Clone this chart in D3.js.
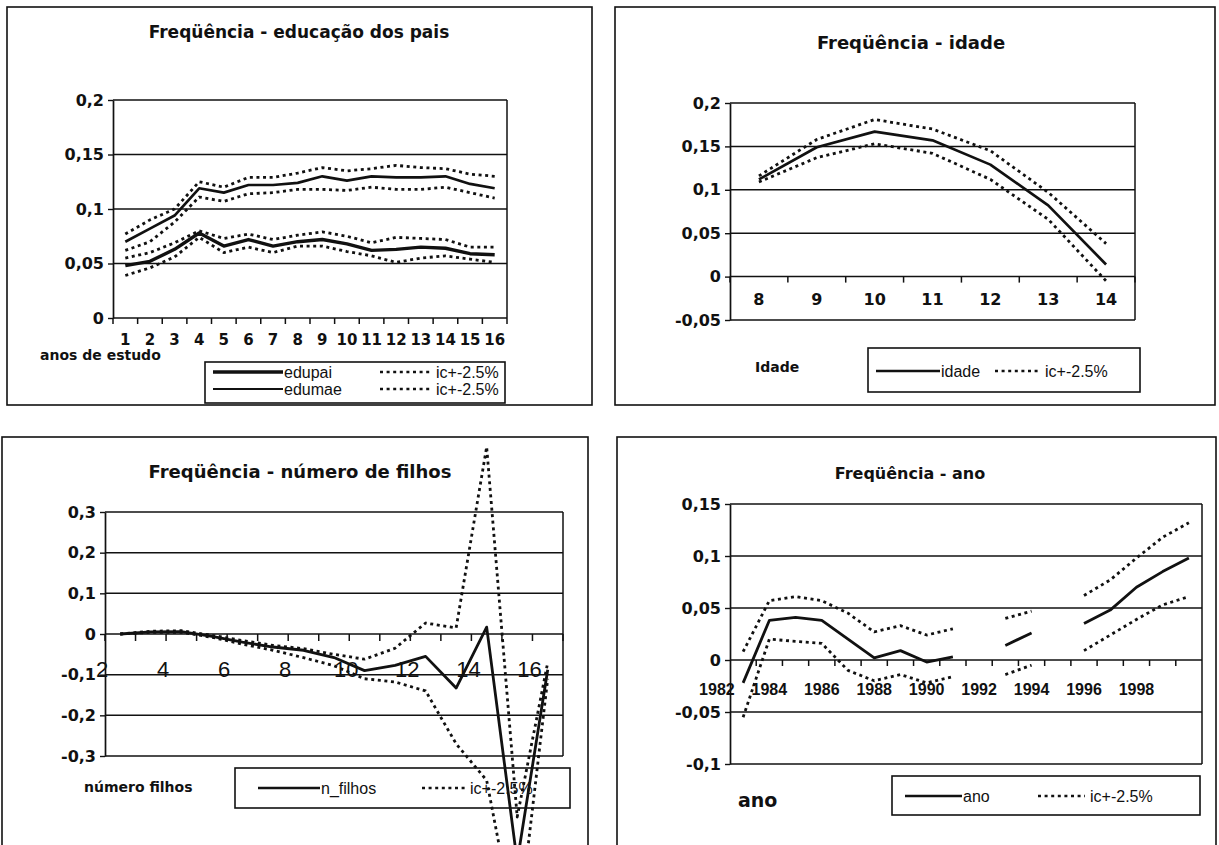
<!DOCTYPE html>
<html>
<head>
<meta charset="utf-8">
<script src="https://cdn.jsdelivr.net/npm/d3@7"></script>
<style>
  body { margin: 0; background: #fff; }
  text { font-family: "DejaVu Sans", "Liberation Sans", Arial, sans-serif; fill: #111; }
  .leg { font-family: "Liberation Sans", Arial, sans-serif; font-size: 16px; }
  .arial { font-family: "Liberation Sans", Arial, sans-serif; }
</style>
</head>
<body>
<svg id="chart" width="1219" height="845"></svg>
<script>
// --- Frequência - educação dos pais
var anosEstudo = [1, 2, 3, 4, 5, 6, 7, 8, 9, 10, 11, 12, 13, 14, 15, 16];
var edupai    = [0.048, 0.052, 0.063, 0.078, 0.066, 0.072, 0.066, 0.070, 0.072, 0.068, 0.062, 0.063, 0.065, 0.064, 0.059, 0.058];
var edupaiSup = [0.055, 0.060, 0.069, 0.080, 0.073, 0.077, 0.072, 0.076, 0.079, 0.075, 0.069, 0.074, 0.073, 0.072, 0.065, 0.065];
var edupaiInf = [0.039, 0.046, 0.056, 0.074, 0.060, 0.065, 0.060, 0.066, 0.066, 0.061, 0.057, 0.051, 0.055, 0.057, 0.054, 0.051];
var edumae    = [0.070, 0.082, 0.094, 0.119, 0.115, 0.122, 0.122, 0.124, 0.130, 0.126, 0.130, 0.129, 0.129, 0.130, 0.123, 0.119];
var edumaeSup = [0.077, 0.090, 0.100, 0.125, 0.120, 0.129, 0.129, 0.133, 0.138, 0.135, 0.137, 0.140, 0.138, 0.137, 0.132, 0.130];
var edumaeInf = [0.062, 0.070, 0.088, 0.111, 0.107, 0.114, 0.115, 0.118, 0.118, 0.117, 0.120, 0.118, 0.118, 0.120, 0.115, 0.110];

// --- Frequência - idade
var idade    = [8, 9, 10, 11, 12, 13, 14];
var idadeVal = [0.112, 0.149, 0.167, 0.157, 0.129, 0.082, 0.014];
var idadeSup = [0.116, 0.158, 0.181, 0.170, 0.145, 0.097, 0.038];
var idadeInf = [0.109, 0.137, 0.153, 0.142, 0.112, 0.066, -0.005];

// --- Frequência - número de filhos
var filhos     = [2, 3, 4, 5, 6, 7, 8, 9, 10, 11, 12, 13, 14, 15, 16];
var filhosLab  = [2, 4, 6, 8, 10, 12, 14, 16];
var nFilhos    = [0, 0.005, 0.006, -0.006, -0.020, -0.032, -0.040, -0.058, -0.090, -0.077, -0.055, -0.133, 0.017, -0.560, -0.088];
var nFilhosSup = [0, 0.007, 0.008, -0.003, -0.016, -0.028, -0.036, -0.050, -0.062, -0.035, 0.027, 0.015, 0.460, -0.450, -0.070];
var nFilhosInf = [0, 0.004, 0.004, -0.008, -0.025, -0.040, -0.058, -0.078, -0.110, -0.118, -0.140, -0.270, -0.360, -0.750, -0.110];

// --- Frequência - ano
var anos    = [1983, 1984, 1985, 1986, 1987, 1988, 1989, 1990, 1991, 1992, 1993, 1994, 1995, 1996, 1997, 1998, 1999, 2000];
var anosLab = [1982, 1984, 1986, 1988, 1990, 1992, 1994, 1996, 1998];
var anoVal  = [-0.022, 0.038, 0.041, 0.038, 0.020, 0.002, 0.009, -0.002, 0.003, null, 0.014, 0.026, null, 0.035, 0.048, 0.070, 0.085, 0.098];
var anoSup  = [0.008, 0.057, 0.061, 0.057, 0.045, 0.027, 0.033, 0.024, 0.030, null, 0.040, 0.047, null, 0.062, 0.077, 0.098, 0.118, 0.132];
var anoInf  = [-0.055, 0.020, 0.018, 0.016, -0.010, -0.020, -0.014, -0.022, -0.016, null, -0.014, -0.005, null, 0.009, 0.024, 0.039, 0.053, 0.061];

var svg = d3.select("#chart");
var fmt = d3.formatLocale({decimal: ",", thousands: ".", grouping: [3], currency: ["", ""], minus: "-"}).format("~g");
var DOTS = "3,3.6";

// box, title, grid, y axis
function preparePanel(p) {
  var g = svg.append("g");
  g.append("rect")
    .attr("x", p.box[0]).attr("y", p.box[1])
    .attr("width", p.box[2]).attr("height", p.box[3])
    .attr("fill", "none").attr("stroke", "#111").attr("stroke-width", 1.6);

  g.append("text")
    .attr("x", p.titleX).attr("y", p.titleY)
    .attr("text-anchor", "middle")
    .style("font-size", p.titleSize + "px").style("font-weight", "bold")
    .text(p.title);

  var y = d3.scaleLinear().domain(p.yDomain).range([p.bottom, p.top]);

  g.selectAll("line.grid")
    .data(p.yTicks)
    .enter().append("line")
      .attr("class", "grid")
      .attr("x1", p.left).attr("x2", p.right)
      .attr("y1", y).attr("y2", y)
      .attr("stroke", "#111").attr("stroke-width", 1.5);

  g.append("line")
    .attr("x1", p.right).attr("x2", p.right)
    .attr("y1", p.top).attr("y2", p.bottom)
    .attr("stroke", "#111").attr("stroke-width", 1.5);

  var ax = g.append("g")
    .attr("transform", "translate(" + p.left + ",0)")
    .call(d3.axisLeft(y).tickValues(p.yTicks).tickSize(5).tickSizeOuter(0).tickPadding(4).tickFormat(fmt));
  ax.attr("font-family", null).attr("font-size", null);
  ax.select(".domain").attr("stroke", "#111").attr("stroke-width", 1.7);
  ax.selectAll(".tick line").attr("stroke", "#111").attr("stroke-width", 1.4);
  ax.selectAll(".tick text").style("font-size", "16px").style("font-weight", "bold").attr("fill", "#111");

  g.append("text")
    .attr("x", p.axisTitle.x).attr("y", p.axisTitle.y)
    .style("font-size", p.axisTitle.size + "px").style("font-weight", "bold")
    .text(p.axisTitle.text);

  p.g = g;
  p.y = y;
  return p;
}

function buildLegend(p, box, rows) {
  var g = p.g.append("g");
  g.append("rect")
    .attr("x", box[0]).attr("y", box[1]).attr("width", box[2]).attr("height", box[3])
    .attr("fill", "#fff").attr("stroke", "#111").attr("stroke-width", 1.6);
  rows.forEach(function(r) {
    g.append("line")
      .attr("x1", r.x1).attr("x2", r.x2).attr("y1", r.y).attr("y2", r.y)
      .attr("stroke", "#111").attr("stroke-width", r.width)
      .attr("stroke-dasharray", r.dash || null);
    g.append("text")
      .attr("class", "leg")
      .attr("x", r.x2 + (r.dash ? 5 : 1)).attr("y", r.y + 6)
      .text(r.label);
  });
}

function buildSeries(p, xs, values, width, dash) {
  var pts = xs.map(function(d, i) { return [p.xPos(d), values[i]]; });
  var line = d3.line()
    .defined(function(d) { return d[1] != null; })
    .x(function(d) { return d[0]; })
    .y(function(d) { return p.y(d[1]); });
  p.g.append("path")
    .datum(pts)
    .attr("d", line)
    .attr("fill", "none")
    .attr("stroke", "#111")
    .attr("stroke-width", width)
    .attr("stroke-linejoin", "round")
    .attr("stroke-dasharray", dash || null);
}

function categoryTicks(p, x, yTop, len) {
  var bounds = x.domain().map(function(d) { return x(d); });
  bounds.push(x.range()[1]);
  p.g.selectAll("line.xtick")
    .data(bounds)
    .enter().append("line")
      .attr("x1", function(d) { return d; }).attr("x2", function(d) { return d; })
      .attr("y1", yTop).attr("y2", yTop + len)
      .attr("stroke", "#111").attr("stroke-width", 1.5);
}

// ---------- panel 1
var p1 = preparePanel({
  box: [7, 7, 585, 398], title: "Freqüência - educação dos pais", titleX: 299, titleY: 38, titleSize: 17,
  left: 113, right: 507, top: 100, bottom: 318,
  yDomain: [0, 0.2], yTicks: [0, 0.05, 0.1, 0.15, 0.2],
  axisTitle: {text: "anos de estudo", x: 40, y: 360, size: 14}
});
var x1 = d3.scaleBand().domain(anosEstudo).range([113, 507]);
p1.xPos = function(d) { return x1(d) + x1.bandwidth() / 2; };
categoryTicks(p1, x1, p1.y(0), 6);
p1.g.selectAll("text.xlab").data(anosEstudo).enter().append("text")
  .attr("x", p1.xPos).attr("y", 345).attr("text-anchor", "middle")
  .style("font-size", "15px").style("font-weight", "bold").text(function(d) { return d; });
buildLegend(p1, [205, 362, 300, 41], [
  {x1: 213, x2: 283, y: 372, width: 3.6, label: "edupai"},
  {x1: 380, x2: 431, y: 372, width: 2.6, dash: DOTS, label: "ic+-2.5%"},
  {x1: 213, x2: 283, y: 389, width: 2, label: "edumae"},
  {x1: 380, x2: 431, y: 389, width: 2.6, dash: DOTS, label: "ic+-2.5%"}
]);
buildSeries(p1, anosEstudo, edumaeSup, 2.8, DOTS);
buildSeries(p1, anosEstudo, edumaeInf, 2.8, DOTS);
buildSeries(p1, anosEstudo, edupaiSup, 2.8, DOTS);
buildSeries(p1, anosEstudo, edupaiInf, 2.8, DOTS);
buildSeries(p1, anosEstudo, edumae, 2.7);
buildSeries(p1, anosEstudo, edupai, 3.4);

// ---------- panel 2
var p2 = preparePanel({
  box: [615, 7, 600, 398], title: "Freqüência - idade", titleX: 911, titleY: 49, titleSize: 18,
  left: 730, right: 1135, top: 103, bottom: 320,
  yDomain: [-0.05, 0.2], yTicks: [-0.05, 0, 0.05, 0.1, 0.15, 0.2],
  axisTitle: {text: "Idade", x: 755, y: 372, size: 14}
});
var x2 = d3.scaleBand().domain(idade).range([730, 1135]);
p2.xPos = function(d) { return x2(d) + x2.bandwidth() / 2; };
categoryTicks(p2, x2, p2.y(0), 6);
p2.g.selectAll("text.xlab").data(idade).enter().append("text")
  .attr("x", p2.xPos).attr("y", 305).attr("text-anchor", "middle")
  .style("font-size", "16px").style("font-weight", "bold").text(function(d) { return d; });
buildLegend(p2, [868, 348, 272, 44], [
  {x1: 876, x2: 940, y: 371, width: 2.4, label: "idade"},
  {x1: 995, x2: 1040, y: 371, width: 2.6, dash: DOTS, label: "ic+-2.5%"}
]);
buildSeries(p2, idade, idadeSup, 2.8, DOTS);
buildSeries(p2, idade, idadeInf, 2.8, DOTS);
buildSeries(p2, idade, idadeVal, 2.7);

// ---------- panel 3
var p3 = preparePanel({
  box: [2, 437, 586, 410], title: "Freqüência - número de filhos", titleX: 300, titleY: 478, titleSize: 18,
  left: 105, right: 563, top: 512, bottom: 756,
  yDomain: [-0.3, 0.3], yTicks: [-0.3, -0.2, -0.1, 0, 0.1, 0.2, 0.3],
  axisTitle: {text: "número filhos", x: 84, y: 792, size: 14}
});
var x3 = d3.scaleBand().domain(filhos).range([105, 563]);
p3.xPos = function(d) { return x3(d) + x3.bandwidth() / 2; };
categoryTicks(p3, x3, p3.y(0), 7);
p3.g.selectAll("text.xlab").data(filhosLab).enter().append("text")
  .attr("class", "arial")
  .attr("x", function(d) { return x3(d) - 3; }).attr("y", 677).attr("text-anchor", "middle")
  .style("font-size", "22px").text(function(d) { return d; });
buildLegend(p3, [235, 768, 335, 40], [
  {x1: 258, x2: 320, y: 788, width: 2.4, label: "n_filhos"},
  {x1: 422, x2: 465, y: 788, width: 2.6, dash: DOTS, label: "ic+-2.5%"}
]);
buildSeries(p3, filhos, nFilhosSup, 2.8, DOTS);
buildSeries(p3, filhos, nFilhosInf, 2.8, DOTS);
buildSeries(p3, filhos, nFilhos, 2.8);

// ---------- panel 4
var p4 = preparePanel({
  box: [617, 437, 599, 410], title: "Freqüência - ano", titleX: 910, titleY: 479, titleSize: 16,
  left: 730, right: 1202, top: 504, bottom: 764,
  yDomain: [-0.1, 0.15], yTicks: [-0.1, -0.05, 0, 0.05, 0.1, 0.15],
  axisTitle: {text: "ano", x: 738, y: 807, size: 19}
});
var x4 = d3.scaleLinear().domain([1982.5, 2000.5]).range([730, 1202]);
p4.xPos = x4;
p4.g.selectAll("line.xtick").data(anos.slice(0, -1)).enter().append("line")
  .attr("x1", function(d) { return x4(d + 0.5); }).attr("x2", function(d) { return x4(d + 0.5); })
  .attr("y1", p4.y(0)).attr("y2", p4.y(0) + 6)
  .attr("stroke", "#111").attr("stroke-width", 1.5);
p4.g.selectAll("text.xlab").data(anosLab).enter().append("text")
  .attr("class", "arial")
  .attr("x", x4).attr("y", 695).attr("text-anchor", "middle")
  .style("font-size", "16px").style("font-weight", "bold").text(function(d) { return d; });
buildLegend(p4, [892, 776, 308, 39], [
  {x1: 905, x2: 962, y: 796, width: 2.4, label: "ano"},
  {x1: 1038, x2: 1085, y: 796, width: 2.6, dash: DOTS, label: "ic+-2.5%"}
]);
buildSeries(p4, anos, anoSup, 2.8, DOTS);
buildSeries(p4, anos, anoInf, 2.8, DOTS);
buildSeries(p4, anos, anoVal, 2.8);
</script>
</body>
</html>
